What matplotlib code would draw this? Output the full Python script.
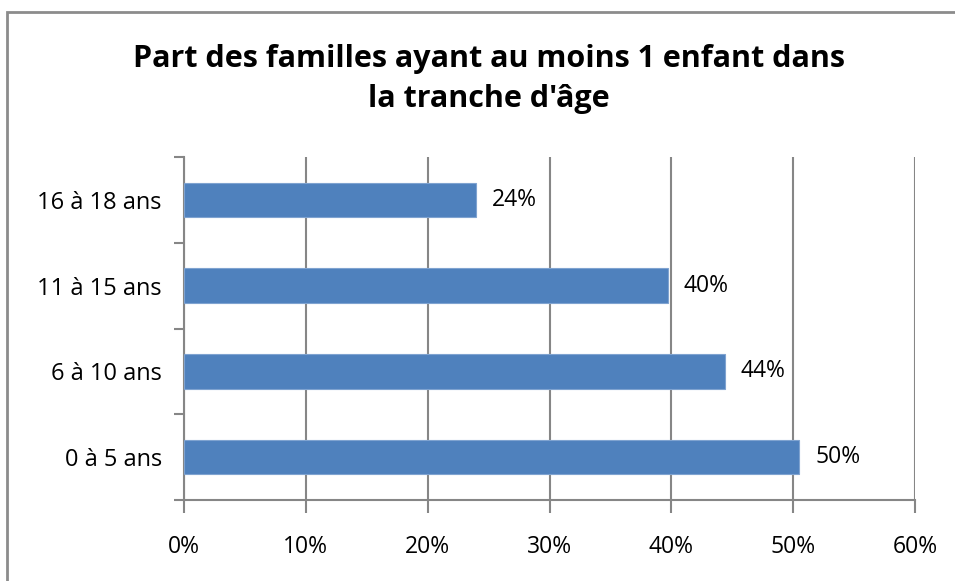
import matplotlib.pyplot as plt
from matplotlib.patches import Rectangle
from matplotlib.ticker import FixedLocator, PercentFormatter

plt.rcParams['font.family'] = ['Open Sans', 'DejaVu Sans']

categories = ["0 à 5 ans", "6 à 10 ans", "11 à 15 ans", "16 à 18 ans"]
values = [50.5, 44.4, 39.7, 24.0]
labels = ["50%", "44%", "40%", "24%"]
title = "Part des familles ayant au moins 1 enfant dans\nla tranche d'âge"

grey = "#868686"

fig = plt.figure(figsize=(9.55, 5.81), dpi=100)
ax = fig.add_axes([184 / 955, 81 / 581, 731 / 955, 343 / 581])

# outer chart frame
fig.patches.append(Rectangle((7 / 955, -0.05), 1.2, (581 - 12) / 581 + 0.05,
                             transform=fig.transFigure, fill=False,
                             edgecolor="#8c8c8c", linewidth=2))

pos = list(range(len(categories)))
ax.barh(pos, values, height=0.4, color="#4F81BD", edgecolor="#7FA3D0",
        linewidth=0.8, zorder=3)
for p, v, lab in zip(pos, values, labels):
    ax.text(v + 1.3, p, lab, va="center", ha="left", fontsize=16.5)

ax.set_xlim(0, 60)
ax.set_ylim(-0.5, 3.5)
ax.set_xticks(range(0, 61, 10))
ax.xaxis.set_major_formatter(PercentFormatter(decimals=0))
ax.set_yticks(pos)
ax.set_yticklabels(categories)
ax.yaxis.set_minor_locator(FixedLocator([-0.5, 0.5, 1.5, 2.5, 3.5]))
ax.tick_params(axis="y", which="major", length=0, pad=16, labelsize=17)
ax.tick_params(axis="y", which="minor", length=7, color=grey, width=1.5)
ax.tick_params(axis="x", length=9, color=grey, width=1.5, pad=16, labelsize=16.5)

ax.grid(axis="x", color=grey, linewidth=1.5, zorder=0)
for s in ["top", "right"]:
    ax.spines[s].set_visible(False)
for s in ["left", "bottom"]:
    ax.spines[s].set_color(grey)
    ax.spines[s].set_linewidth(1.5)

fig.text(489 / 955, 1 - 79 / 581, title, ha="center", va="center",
         fontsize=22, fontweight="bold", linespacing=1.4)

fig.savefig("out.png", dpi=100)
